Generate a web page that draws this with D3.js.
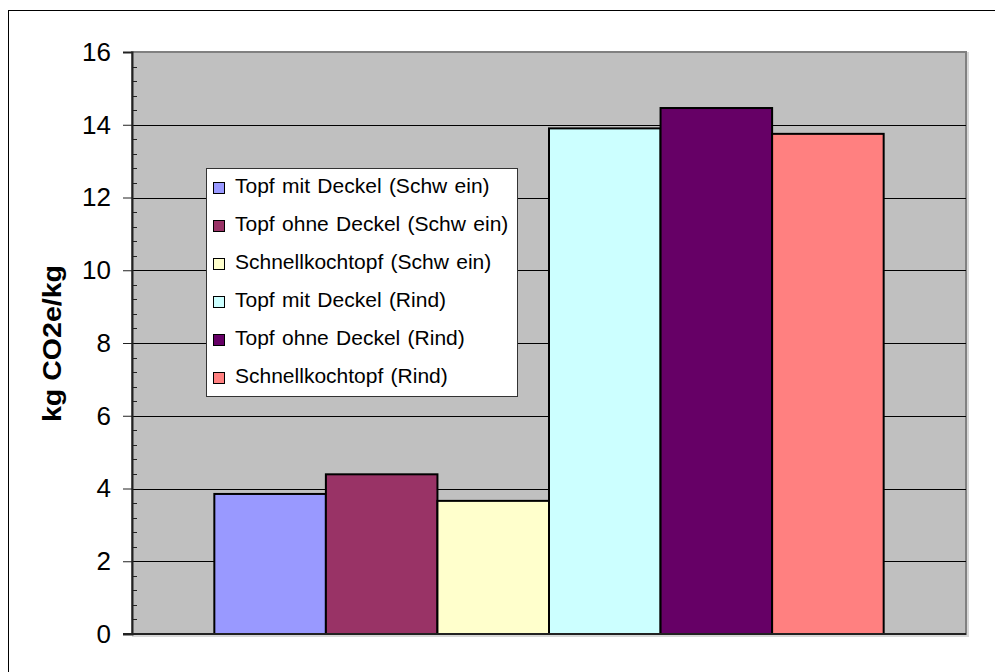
<!DOCTYPE html>
<html>
<head>
<meta charset="utf-8">
<script src="https://cdn.jsdelivr.net/npm/d3@7"></script>
<style>
  html, body { margin: 0; padding: 0; background: #fff; }
  svg { display: block; }
  text { font-family: "Liberation Sans", Arial, sans-serif; }
</style>
</head>
<body>
<svg id="chart" width="995" height="672"></svg>
<script>
// ---- data ----
const seriesNames = [
  "Topf mit Deckel (Schw ein)",
  "Topf ohne Deckel (Schw ein)",
  "Schnellkochtopf (Schw ein)",
  "Topf mit Deckel (Rind)",
  "Topf ohne Deckel (Rind)",
  "Schnellkochtopf (Rind)"
];
const seriesValues = [3.85, 4.39, 3.66, 13.9, 14.46, 13.75];
const seriesColors = ["#9999FF", "#993366", "#FFFFCC", "#CCFFFF", "#660066", "#FF8080"];
const yTicks = [0, 2, 4, 6, 8, 10, 12, 14, 16];
const yTitle = "kg CO2e/kg";

// ---- layout ----
const svg = d3.select("#chart");
const plot = { left: 132, top: 52, right: 966, bottom: 634 };

// outer chart border
svg.append("rect")
  .attr("x", 8.5).attr("y", 10.5).attr("width", 1000).attr("height", 700)
  .attr("fill", "#fff").attr("stroke", "#000").attr("stroke-width", 1);

const y = d3.scaleLinear().domain([0, 16]).range([plot.bottom, plot.top]);
const x0 = d3.scaleBand().domain([""]).range([plot.left, plot.right])
  .paddingInner(0).paddingOuter(0.123);
const x1 = d3.scaleBand().domain(seriesNames)
  .range([x0(""), x0("") + x0.bandwidth()]).padding(0);

// plot area shadow + background
svg.append("rect")
  .attr("x", plot.left + 1).attr("y", plot.top + 1)
  .attr("width", plot.right - plot.left + 1).attr("height", plot.bottom - plot.top + 1)
  .attr("fill", "none").attr("stroke", "#d8d8d8").attr("stroke-width", 2);
svg.append("rect")
  .attr("x", plot.left).attr("y", plot.top)
  .attr("width", plot.right - plot.left).attr("height", plot.bottom - plot.top)
  .attr("fill", "#C0C0C0").attr("stroke", "#808080").attr("stroke-width", 2);

// gridlines
svg.append("g").selectAll("line")
  .data(yTicks.filter(d => d > 0 && d < 16))
  .join("line")
  .attr("x1", plot.left).attr("x2", plot.right)
  .attr("y1", d => Math.round(y(d)) + 0.5).attr("y2", d => Math.round(y(d)) + 0.5)
  .attr("stroke", "#000").attr("stroke-width", 1);

// bars
svg.append("g").selectAll("rect")
  .data(seriesNames.map((n, i) => ({ name: n, value: seriesValues[i], color: seriesColors[i] })))
  .join("rect")
  .attr("x", d => x1(d.name))
  .attr("y", d => y(d.value))
  .attr("width", x1.bandwidth())
  .attr("height", d => y(0) - y(d.value))
  .attr("fill", d => d.color)
  .attr("stroke", "#000").attr("stroke-width", 2);

// minor ticks (inside)
const minor = d3.range(0, 16.001, 0.4).filter(v => Math.abs(v / 2 - Math.round(v / 2)) > 1e-6);
svg.append("g").selectAll("line").data(minor).join("line")
  .attr("x1", plot.left).attr("x2", plot.left + 5)
  .attr("y1", d => Math.round(y(d)) + 0.5).attr("y2", d => Math.round(y(d)) + 0.5)
  .attr("stroke", "#222").attr("stroke-width", 1);

// y axis
const yAxis = d3.axisLeft(y).tickValues(yTicks).tickSize(9).tickPadding(12)
  .tickFormat(d3.format("d"));
const gy = svg.append("g").attr("transform", `translate(${plot.left},0)`).call(yAxis);
gy.select(".domain").attr("stroke", "#222").attr("stroke-width", 2);
gy.selectAll(".tick line").attr("stroke", "#222");
gy.selectAll(".tick text")
  .attr("font-family", "'Liberation Sans', Arial, sans-serif")
  .attr("font-size", 26).attr("fill", "#000");

// x axis baseline
svg.append("line")
  .attr("x1", plot.left - 9).attr("x2", plot.right)
  .attr("y1", plot.bottom).attr("y2", plot.bottom)
  .attr("stroke", "#222").attr("stroke-width", 2);

// y title
svg.append("text")
  .attr("transform", `translate(61,${(265 + 422) / 2}) rotate(-90)`)
  .attr("text-anchor", "middle")
  .attr("font-size", 25).attr("font-weight", "bold")
  .attr("textLength", 157).attr("lengthAdjust", "spacingAndGlyphs")
  .text(yTitle);

// legend
const lg = svg.append("g");
lg.append("rect")
  .attr("x", 206.5).attr("y", 168.5).attr("width", 311).attr("height", 228)
  .attr("fill", "#fff").attr("stroke", "#333").attr("stroke-width", 1);
const items = lg.selectAll("g.item")
  .data(seriesNames.map((n, i) => ({ name: n, color: seriesColors[i] })))
  .join("g").attr("class", "item")
  .attr("transform", (d, i) => `translate(0,${193 + i * 38})`);
items.append("rect")
  .attr("x", 213.5).attr("y", -10.5).attr("width", 11).attr("height", 11)
  .attr("fill", d => d.color).attr("stroke", "#000").attr("stroke-width", 1);
items.append("text")
  .attr("x", 235).attr("y", 0)
  .attr("font-size", 21).attr("word-spacing", 1.5)
  .attr("fill", "#000")
  .text(d => d.name);
</script>
</body>
</html>
